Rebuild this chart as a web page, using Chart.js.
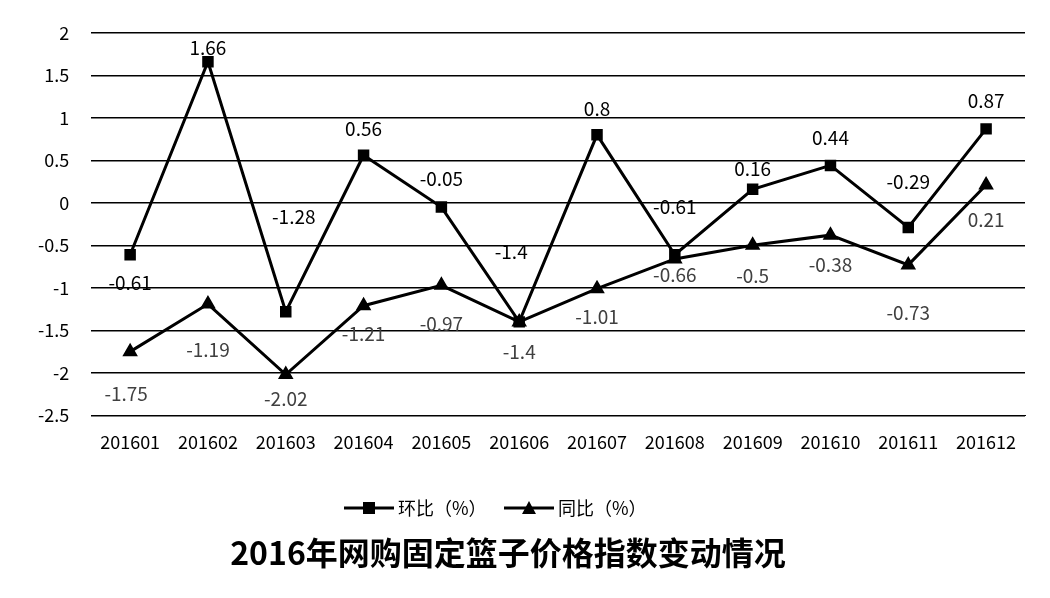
<!DOCTYPE html>
<html><head><meta charset="utf-8">
<script src="https://cdn.jsdelivr.net/npm/chart.js@4"></script>
<style>body{margin:0;background:#fff}#w{width:1050px;height:598px}</style>
</head><body><div id="w"><canvas id="c"></canvas></div>
<script>
const categories=['201601','201602','201603','201604','201605','201606','201607','201608','201609','201610','201611','201612'];
const huanbi=[-0.61,1.66,-1.28,0.56,-0.05,-1.4,0.8,-0.61,0.16,0.44,-0.29,0.87];
const tongbi=[-1.75,-1.19,-2.02,-1.21,-0.97,-1.4,-1.01,-0.66,-0.5,-0.38,-0.73,0.21];
const seriesNames=['环比（%）','同比（%）'];
const titleText='2016年网购固定篮子价格指数变动情况';
const font="'Noto Sans CJK SC', sans-serif";
const hbOff=[[0,28],[0,-14],[8,-95],[0,-26],[0,-28],[-8,-70],[0,-26],[0,-48],[0,-20],[0,-28],[0,-46],[0,-28]];
const tbOff=[[-4,42],[0,46],[0,24],[0,28],[0,38],[0,30],[0,28],[0,16],[0,30],[0,30],[0,48],[0,35]];
const labelPlugin={id:'lbl',afterDatasetsDraw(ch){
  const c=ch.ctx;c.save();c.font="19px "+font;c.textAlign='center';c.textBaseline='middle';
  [[0,hbOff,'#000',huanbi],[1,tbOff,'#404040',tongbi]].forEach(([i,off,col,vals])=>{
    const m=ch.getDatasetMeta(i);c.fillStyle=col;
    m.data.forEach((p,k)=>c.fillText(String(vals[k]),p.x+off[k][0],p.y+off[k][1]));
  });
  const ly=508;c.strokeStyle='#000';c.lineWidth=3;c.fillStyle='#000';
  c.beginPath();c.moveTo(344,ly);c.lineTo(394,ly);c.stroke();c.fillRect(363,ly-6,12,12);
  c.beginPath();c.moveTo(504,ly);c.lineTo(554,ly);c.stroke();
  c.beginPath();c.moveTo(529,ly-7);c.lineTo(536,ly+6);c.lineTo(522,ly+6);c.closePath();c.fill();
  c.textAlign='left';c.font="18px "+font;c.fillText(seriesNames[0],398,ly);c.fillText(seriesNames[1],558,ly);
  c.textAlign='center';c.font="bold 32px "+font;c.fillText(titleText,508,553);
  c.restore();}};
new Chart(document.getElementById('c'),{type:'line',
 data:{labels:categories,datasets:[
  {label:seriesNames[0],data:huanbi,borderColor:'#000',backgroundColor:'#000',borderWidth:3,pointStyle:'rect',pointRadius:6,tension:0},
  {label:seriesNames[1],data:tongbi,borderColor:'#000',backgroundColor:'#000',borderWidth:3,pointStyle:'triangle',pointRadius:6,tension:0}]},
 options:{responsive:true,maintainAspectRatio:false,animation:false,
  layout:{padding:{top:20,right:25,bottom:137,left:16}},
  plugins:{legend:{display:false},tooltip:{enabled:false}},
  scales:{
   x:{offset:true,grid:{display:false},border:{color:'#000'},ticks:{color:'#000',font:{size:18,family:font},maxRotation:0,padding:8}},
   y:{min:-2.5,max:2,ticks:{stepSize:0.5,color:'#000',font:{size:18,family:font},padding:22,callback:v=>String(Math.round(v*10)/10)},grid:{color:'#000',lineWidth:1.5,drawTicks:false},border:{display:false}}}},
 plugins:[labelPlugin]});
</script></body></html>
